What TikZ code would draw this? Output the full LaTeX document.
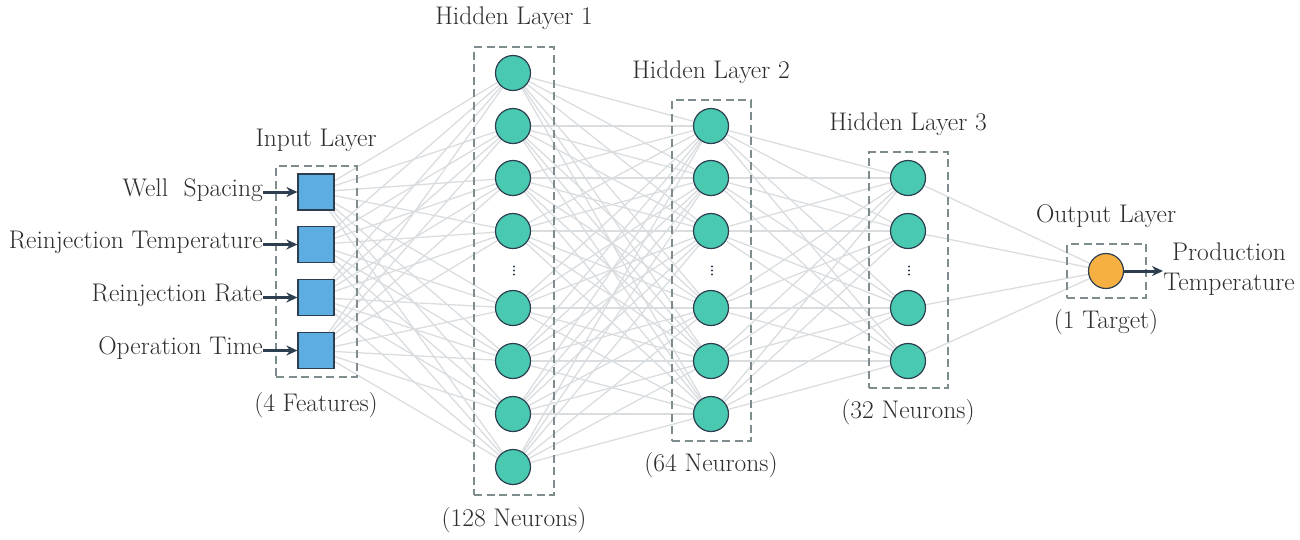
\documentclass[tikz,border=0pt]{standalone}
\usetikzlibrary{backgrounds,arrows.meta}
\definecolor{sqblue}{HTML}{5DADE2}
\definecolor{neuteal}{HTML}{48C9B0}
\definecolor{outorange}{HTML}{F5B041}
\definecolor{edgedark}{HTML}{2C3E50}
\definecolor{boxgray}{HTML}{7F8C8D}
\definecolor{linkgray}{HTML}{DADDE0}
\definecolor{txtgray}{HTML}{2E2E2E}
\tikzset{
  inp/.style={draw=edgedark, fill=sqblue, minimum size=36pt, line width=1.2pt, inner sep=0pt},
  neu/.style={circle, draw=edgedark, fill=neuteal, minimum size=35pt, line width=1.2pt, inner sep=0pt},
  outn/.style={circle, draw=edgedark, fill=outorange, minimum size=35pt, line width=1.2pt, inner sep=0pt},
  layerbox/.style={draw=boxgray, dash pattern=on 8pt off 4.5pt, line width=2.6pt, inner sep=0pt},
  link/.style={draw=linkgray, line width=1.3pt},
  feed/.style={draw=edgedark, line width=3pt, -{Stealth[length=11pt,width=10pt]}},
  lbl/.style={text=txtgray, font=\fontsize{25.5}{30}\selectfont, inner sep=0pt},
  vdotmark/.style={fill=edgedark}
}
\begin{document}
\begin{tikzpicture}[x=1pt,y=-1pt]
\useasboundingbox (0,0) rectangle (1300,539);
% dashed layer boxes
\node[layerbox, minimum width=81pt, minimum height=211pt] (bin) at (316.5,271.5) {};
\node[layerbox, minimum width=80pt, minimum height=448pt] (bh1) at (514,271) {};
\node[layerbox, minimum width=79pt, minimum height=341pt] (bh2) at (711.5,270.5) {};
\node[layerbox, minimum width=79pt, minimum height=236pt] (bh3) at (908.5,270) {};
\node[layerbox, minimum width=79pt, minimum height=54pt] (bout) at (1106.5,271) {};
% input layer
\foreach \y [count=\i] in {192,244.5,297.5,350.5} {
  \node[inp] (i\i) at (316,\y) {};
}
% hidden layer 1
\foreach \y [count=\i] in {73,126,178,231,308,361,414,467} {
  \node[neu] (a\i) at (513,\y) {};
}
% hidden layer 2
\foreach \y [count=\i] in {126,178,231,308,361,414} {
  \node[neu] (b\i) at (711,\y) {};
}
% hidden layer 3
\foreach \y [count=\i] in {178,231,308,361} {
  \node[neu] (c\i) at (908,\y) {};
}
% output
\node[outn] (o) at (1106,271) {};
% vertical ellipses
\foreach \x in {514,712,909} {
  \foreach \y in {266.5,270.5,274.5} \fill[vdotmark] (\x,\y) circle (1.1pt);
}
% connections
\begin{scope}[on background layer]
\foreach \i in {1,...,4} \foreach \j in {1,...,8} \draw[link] (i\i) -- (a\j);
\foreach \i in {1,...,8} \foreach \j in {1,...,6} \draw[link] (a\i) -- (b\j);
\foreach \i in {1,...,6} \foreach \j in {1,...,4} \draw[link] (b\i) -- (c\j);
\foreach \i in {1,...,4} \draw[link] (c\i) -- (o);
\end{scope}
% input labels and arrows
\node[lbl, anchor=east] (w1) at (263,190) {Well\ \ Spacing};
\node[lbl, anchor=east] (w2) at (263,242.5) {Reinjection Temperature};
\node[lbl, anchor=east] (w3) at (263,295.5) {Reinjection Rate};
\node[lbl, anchor=east] (w4) at (263,348.5) {Operation Time};
\foreach \i in {1,...,4} \draw[feed] (w\i.east |- i\i) -- (i\i.west);
% output arrow and label
\coordinate (oend) at (1163,271);
\draw[feed] (o) -- (oend);
\node[lbl, align=center] (ptxt) at (1229,269) {Production\\Temperature};
% layer titles
\node[lbl] (tin) at (316,140) {Input Layer};
\node[lbl] (th1) at (514,18) {Hidden Layer 1};
\node[lbl] (th2) at (711,72) {Hidden Layer 2};
\node[lbl] (th3) at (908,124) {Hidden Layer 3};
\node[lbl] (tout) at (1106,216) {Output Layer};
% counts
\node[lbl] (nin) at (316,405) {(4 Features)};
\node[lbl] (nh1) at (514,520) {(128 Neurons)};
\node[lbl] (nh2) at (711,465) {(64 Neurons)};
\node[lbl] (nh3) at (908,412) {(32 Neurons)};
\node[lbl] (nout) at (1106,322) {(1 Target)};
\end{tikzpicture}
\end{document}
